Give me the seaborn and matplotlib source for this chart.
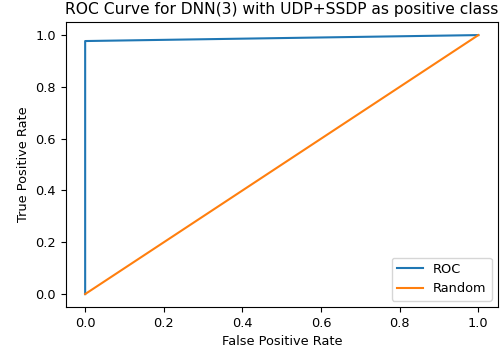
import matplotlib
matplotlib.use("Agg")
import matplotlib.pyplot as plt
import seaborn as sns
import pandas as pd

# ROC curve points
fpr = [0.0, 0.0, 1.0]
tpr = [0.0, 0.977, 1.0]
# Chance line
rand_x = [0.0, 1.0]
rand_y = [0.0, 1.0]

plt.rcParams["font.size"] = 9.3

fig = plt.figure(figsize=(5.0, 3.57), dpi=100)
ax = fig.add_axes([0.131, 0.140, 0.865, 0.798])

roc = pd.DataFrame({"fpr": fpr, "tpr": tpr})
rnd = pd.DataFrame({"x": rand_x, "y": rand_y})

sns.lineplot(data=roc, x="fpr", y="tpr", sort=False, estimator=None,
             color="#1f77b4", label="ROC", ax=ax)
sns.lineplot(data=rnd, x="x", y="y", sort=False, estimator=None,
             color="#ff7f0e", label="Random", ax=ax)

ax.set_title("ROC Curve for DNN(3) with UDP+SSDP as positive class", fontsize=11.2)
ax.set_xlabel("False Positive Rate")
ax.set_ylabel("True Positive Rate")
ax.legend(loc="lower right")

fig.savefig("out.png", dpi=100)
